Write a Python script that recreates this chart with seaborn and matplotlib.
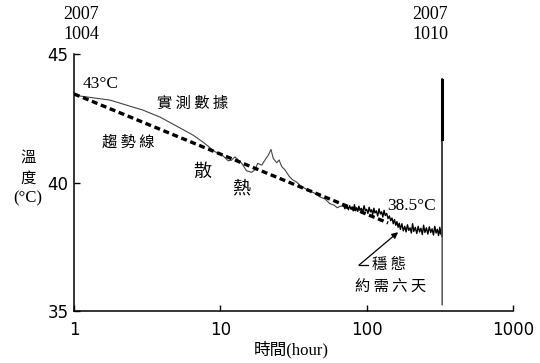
import numpy as np
import pandas as pd
import matplotlib
matplotlib.use('Agg')
import matplotlib.pyplot as plt
import seaborn as sns

# 實測數據 (hour, °C) - smooth part
t_smooth = [1, 1.76, 2.96, 3.87, 6.5, 7.6, 9.2, 10.3, 11.3, 11.9, 12.6, 14.0, 15.1, 16.4,
            17.3, 18.0, 19.2, 20.2, 21.3, 22.2, 23.0, 24.3, 25.2, 26.3, 27.7, 29.5, 31.0,
            33.0, 36.0, 39.8, 44.3, 48, 52, 56, 60, 63, 66, 70]
T_smooth = [43.40, 43.21, 42.82, 42.55, 41.85, 41.58, 41.20, 41.07, 40.85, 40.87, 41.00, 40.75,
            40.46, 40.40, 40.51, 40.75, 40.68, 40.88, 41.07, 41.29, 40.94, 40.77, 40.88, 40.62,
            40.49, 40.25, 40.12, 40.03, 39.84, 39.71, 39.58, 39.44, 39.36, 39.18, 39.12, 39.02,
            39.08, 39.08]

# noisy part
t_noisy = [70, 71, 72, 73, 74, 75,
           76.5, 78, 79.5, 81, 82.5, 84, 85.5, 87, 88.5, 90,
           92, 94, 96, 98, 100, 102, 104, 106, 108, 110, 112, 114,
           116.5, 119, 121.5, 124, 126.5, 129, 131.5, 134,
           137, 140, 143, 146, 149, 152, 155, 158, 161, 164, 167, 170,
           174, 178, 182, 186, 190, 194, 198, 202, 206, 210,
           215, 220, 225, 230, 235, 240, 245, 250,
           256, 262, 268, 274, 280, 286, 292, 298, 304, 310, 316,
           320, 323, 326]
T_noisy = [39.08, 38.98, 39.12, 39.00, 39.06, 38.94,
           39.10, 38.97, 39.04, 38.90, 39.14, 38.95, 39.02, 38.88, 39.08, 38.92,
           39.00, 38.84, 39.10, 38.90, 38.96, 38.80, 39.04, 38.86, 38.94, 38.76, 39.00, 38.82,
           38.90, 38.70, 38.98, 38.78, 38.86, 38.66, 38.92, 38.72,
           38.80, 38.60, 38.70, 38.52, 38.62, 38.40, 38.56, 38.34, 38.48, 38.26, 38.42, 38.18,
           38.40, 38.12, 38.30, 38.08, 38.36, 38.14, 38.24, 38.04, 38.40, 38.10,
           38.26, 38.02, 38.30, 38.08, 38.22, 37.98, 38.34, 38.06,
           38.24, 38.00, 38.28, 38.06, 38.20, 37.96, 38.30, 38.04, 38.18, 37.94, 38.26,
           38.00, 38.16, 37.92]

# spike at the end
t_spike = [326, 328, 328]
T_spike = [37.92, 44.05, 35.25]
t_spike_thick = [328, 328]
T_spike_thick = [44.0, 41.7]

# 趨勢線
t_trend = [1, 140]
T_trend = [43.45, 38.43]

fig = plt.figure(figsize=(5.4, 3.63), dpi=100)
ax = fig.add_axes([0.137, 0.143, 0.813, 0.708])

plt.rcParams['font.family'] = ['Liberation Serif', 'Noto Sans CJK TC']
fam = ['Liberation Serif', 'Noto Sans CJK TC']
cjk = ['Noto Sans CJK TC']

sns.lineplot(x=t_smooth, y=T_smooth, ax=ax, color='#444444', lw=0.8, estimator=None, sort=False)
sns.lineplot(x=t_noisy, y=T_noisy, ax=ax, color='black', lw=1.0, estimator=None, sort=False)
sns.lineplot(x=t_spike, y=T_spike, ax=ax, color='#444444', lw=1.0, estimator=None, sort=False)
sns.lineplot(x=t_spike_thick, y=T_spike_thick, ax=ax, color='black', lw=2.2, estimator=None, sort=False)
sns.lineplot(x=t_trend, y=T_trend, ax=ax, color='black', lw=2.4, estimator=None, sort=False,
             linestyle=(0, (1.8, 1.1)))

ax.set_xscale('log')
ax.set_xlim(1, 1000)
ax.set_ylim(35, 45)
ax.set_xticks([1, 10, 100, 1000])
ax.set_xticklabels(['1', '10', '100', '1000'])
ax.set_yticks([35, 40, 45])
ax.set_yticklabels(['35', '40', '45'])
ax.minorticks_off()
ax.tick_params(direction='in', length=4, width=1, labelsize=12, colors='black')
ax.tick_params(axis='x', pad=7)
ax.tick_params(axis='y', pad=4)
for s in ['top', 'right']:
    ax.spines[s].set_visible(False)
for s in ['left', 'bottom']:
    ax.spines[s].set_linewidth(1.1)
ax.set_xlabel('')
ax.set_ylabel('')

# texts
ax.text(1.152, 43.83, '43°C', fontsize=12.5, family=fam, ha='left', va='center')
ax.text(3.69, 43.07, '實 測 數 據', fontsize=11, family=cjk, ha='left', va='center')
ax.text(1.55, 41.58, '趨 勢 線', fontsize=11, family=cjk, ha='left', va='center')
ax.text(7.5, 40.41, '散', fontsize=13, family=cjk, ha='center', va='center')
ax.text(13.8, 39.75, '熱', fontsize=13, family=cjk, ha='center', va='center')
ax.text(138, 39.07, '38.5°C', fontsize=12.5, family=fam, ha='left', va='center')
ax.text(109, 36.83, '穩 態', fontsize=11, family=cjk, ha='left', va='center')
ax.text(83.3, 35.93, '約 需 六 天', fontsize=11, family=cjk, ha='left', va='center')

ax.annotate('', xy=(164, 38.07), xytext=(88.7, 36.79),
            arrowprops=dict(arrowstyle='-|>', color='black', lw=0.9, mutation_scale=9,
                            shrinkA=0, shrinkB=0))
ax.plot([88.7, 102], [36.79, 36.79], color='black', lw=0.9)

tr = ax.get_xaxis_transform()
ax.text(1.12, 1.115, '2007\n1004', transform=tr, fontsize=13, family=fam,
        ha='center', va='center', linespacing=1.25)
ax.text(272, 1.115, '2007\n1010', transform=tr, fontsize=13, family=fam,
        ha='center', va='center', linespacing=1.25)

fig.text(0.052, 1 - 157 / 363, '溫', fontsize=11, family=cjk, ha='center', va='center')
fig.text(0.052, 1 - 178 / 363, '度', fontsize=11, family=cjk, ha='center', va='center')
fig.text(0.052, 1 - 198 / 363, '(°C)', fontsize=12, family=fam, ha='center', va='center')
fig.text(0.539, 0.036, '時間(hour)', fontsize=12, family=fam, ha='center', va='center')

fig.savefig('out.png', dpi=100)
